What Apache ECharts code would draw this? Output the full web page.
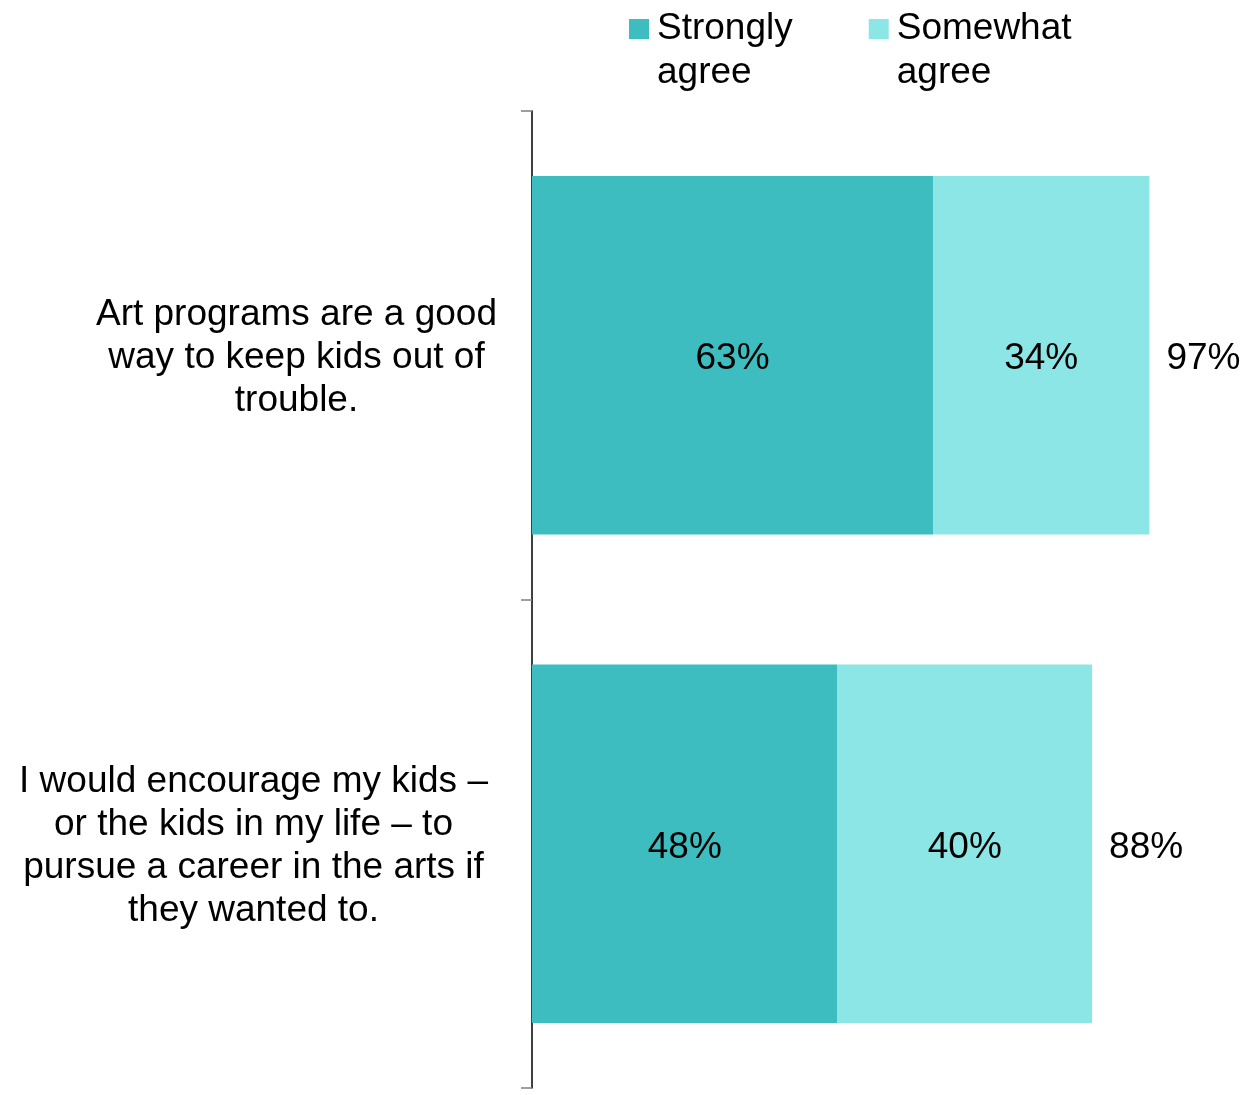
<!DOCTYPE html>
<html>
<head>
<meta charset="utf-8">
<script src="https://cdn.jsdelivr.net/npm/echarts@6/dist/echarts.min.js"></script>
<style>
html,body{margin:0;padding:0;background:#fff;}
#chart{width:1249px;height:1095px;}
</style>
</head>
<body>
<div id="chart"></div>
<script>
const categories = [
  "Art programs are a good\nway to keep kids out of\ntrouble.",
  "I would encourage my kids –\nor the kids in my life – to\npursue a career in the arts if\nthey wanted to."
];
const seriesNames = ["Strongly\nagree", "Somewhat\nagree"];
const stronglyAgree = [63, 48];
const somewhatAgree = [34, 40];
const totals = [97, 88];

const FONT = '"Liberation Sans", Arial, sans-serif';
const chart = echarts.init(document.getElementById('chart'), null, {renderer: 'canvas'});

chart.setOption({
  animation: false,
  backgroundColor: '#ffffff',
  textStyle: {fontFamily: FONT},
  legend: {
    data: seriesNames,
    left: 629,
    top: -40,
    padding: 0,
    itemWidth: 20,
    itemHeight: 20,
    itemGap: 76,
    icon: 'rect',
    formatter: function (n) { return '\n' + n; },
    textStyle: {fontFamily: FONT, fontSize: 37, color: '#000', lineHeight: 44, padding: [6, 0, 0, 3]}
  },
  grid: {left: 532, right: 80.5, top: 111, bottom: 7, containLabel: false},
  xAxis: {type: 'value', min: 0, max: 100, show: false},
  yAxis: {
    type: 'category',
    data: categories,
    inverse: true,
    axisLine: {show: true, lineStyle: {color: '#000', width: 1.5}},
    axisTick: {show: true, length: 11, lineStyle: {color: '#7f7f7f', width: 1.5}},
    axisLabel: {
      margin: 33,
      align: 'right',
      padding: [6, 0, 0, 0],
      formatter: function (v, i) { return '{c' + i + '|' + v + '}'; },
      rich: {
        c0: {width: 405, align: 'center', fontFamily: FONT, fontSize: 37, lineHeight: 43, color: '#000'},
        c1: {width: 491, align: 'center', fontFamily: FONT, fontSize: 37, lineHeight: 43, color: '#000'}
      }
    },
    splitLine: {show: false}
  },
  series: [
    {
      name: seriesNames[0], type: 'bar', stack: 'total', data: stronglyAgree,
      barCategoryGap: '26.6%',
      itemStyle: {color: '#3EBDC0'},
      label: {show: true, position: 'inside', offset: [0, 4], formatter: '{c}%', fontFamily: FONT, fontSize: 37, color: '#000'}
    },
    {
      name: seriesNames[1], type: 'bar', stack: 'total', data: somewhatAgree,
      itemStyle: {color: '#8DE6E6'},
      label: {show: true, position: 'inside', offset: [0, 4], formatter: '{c}%', fontFamily: FONT, fontSize: 37, color: '#000'}
    },
    {
      name: 'Total', type: 'bar', stack: 'total', data: totals.map(() => 0),
      itemStyle: {color: 'transparent'},
      label: {show: true, position: 'right', distance: 17, offset: [0, 4],
        formatter: function (p) { return totals[p.dataIndex] + '%'; },
        fontFamily: FONT, fontSize: 37, color: '#000'}
    }
  ]
});
</script>
</body>
</html>
